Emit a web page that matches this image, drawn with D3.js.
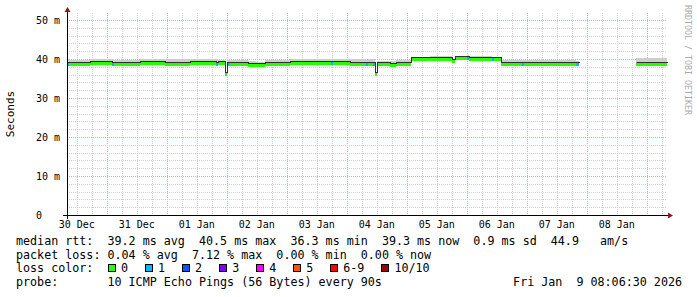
<!DOCTYPE html>
<html lang="en">
<head>
<meta charset="UTF-8">
<title>Smokeping latency - last 10 days</title>
<script src="https://cdn.jsdelivr.net/npm/d3@7/dist/d3.min.js"></script>
<style>
  body { margin: 0; background: #fff; }
  text { font-family: "DejaVu Sans Mono", monospace; white-space: pre; }
</style>
</head>
<body>
<svg id="chart" width="697" height="297" viewBox="0 0 697 297"></svg>
<script>
// window: 10 days ending Fri Jan 9 08:06:30 2026
const windowEnd = new Date(Date.UTC(2026, 0, 9, 8, 6, 30));
const windowStart = new Date(+windowEnd - 10 * 864e5);

// step starts, hours since windowStart (last entry = end of data / gaps)
const hours    = [0, 0.8, 9.2, 18, 18.8, 29.2, 39.2, 49.2, 59.6, 60.4, 63.2, 64, 64.4, 65.2, 72.4, 75.6, 79.2, 89.2, 97.2, 105.6,
                  106.4, 113.2, 119.6, 120.4, 122.4, 123.2, 124, 129.2, 131.6, 137.6, 145.2, 154, 155.2, 160, 160.8, 165.2, 170, 170.8, 173.6, 182,
                  182.8, 193.2, 203.6, 204.8, 227.6, 240];
// median rtt in ms (null = no data)
const median   = [39.1, 39.1, 39.2, 39.1, 39.1, 39.2, 39.1, 39.2, 39.1, 39.2, 36.3, 39.1, 39.1, 39.0, 38.7, 38.6, 39.1, 39.2, 39.2, 39.2,
                  39.2, 39.1, 39.1, 39.1, 39.1, 36.3, 39.0, 38.8, 39.0, 40.3, 40.2, 39.8, 40.4, 40.5, 40.3, 40.2, 40.2, 40.2, 39.1, 39.1,
                  39.1, 39.1, 39.1, null, 39.0, null];
// pings lost out of 10
const lost     = [1, 0, 0, 1, 0, 0, 0, 0, 1, 0, 0, 0, 1, 0, 0, 0, 0, 0, 0, 1,
                  0, 0, 1, 0, 1, 0, 0, 0, 0, 0, 0, 0, 0, 1, 0, 0, 1, 0, 0, 1,
                  0, 0, 1, 0, 0, 0];
// top of the smoke (slowest ping) in ms
const smokeTop = [39.9, 39.8, 40.0, 39.9, 39.8, 40.0, 39.9, 40.1, 40.0, 39.8, 36.5, 39.8, 39.8, 39.7, 39.4, 39.3, 39.8, 40.0, 40.1, 39.9,
                  40.0, 39.9, 39.8, 39.9, 39.9, 36.5, 39.6, 39.5, 39.7, 40.6, 40.7, 40.1, 40.8, 40.9, 40.8, 40.7, 40.6, 40.6, 39.7, 39.8,
                  39.8, 39.7, 39.6, null, 40.2, null];

const lossLabels = ['0', '1', '2', '3', '4', '5', '6-9', '10/10'];
const lossColors = ['#26ff00', '#00b8ff', '#0059ff', '#7e00ff', '#ff00ff', '#ff5500', '#ff0000', '#a10000'];
const yTicks = [0, 10, 20, 30, 40, 50];

const statLines = [
  'median rtt:  39.2 ms avg  40.5 ms max  36.3 ms min  39.3 ms now  0.9 ms sd  44.9   am/s',
  'packet loss: 0.04 % avg  7.12 % max  0.00 % min  0.00 % now'
];
const probeText = 'probe:       10 ICMP Echo Pings (56 Bytes) every 90s';
const stampText = 'Fri Jan  9 08:06:30 2026';

function lossColor(n) {
  if (n <= 5) return lossColors[n];
  if (n < 10) return lossColors[6];
  return lossColors[7];
}

const svg = d3.select('#chart');
const plot = {left: 67, right: 667, top: 13, bottom: 215};

const x = d3.scaleUtc().domain([windowStart, windowEnd]).range([plot.left, plot.right]);
const y = d3.scaleLinear().domain([0, 50]).range([plot.bottom, 20]);
const tAt = h => new Date(+windowStart + h * 36e5);

// segments
const segs = [];
for (let i = 0; i < hours.length - 1; i++) {
  segs.push({t0: tAt(hours[i]), t1: tAt(hours[i + 1]), m: median[i], loss: lost[i], top: smokeTop[i]});
}

// grid
const grid = svg.append('g').attr('shape-rendering', 'crispEdges');
const minorX = d3.utcHour.every(6).range(windowStart, windowEnd);
grid.selectAll('line.vx')
  .data(minorX)
  .enter().append('line')
  .attr('x1', d => Math.round(x(d)) + 0.5).attr('x2', d => Math.round(x(d)) + 0.5)
  .attr('y1', plot.top).attr('y2', plot.bottom)
  .attr('stroke', d => d.getUTCHours() === 0 ? '#e8a8a8' : '#cfcfcf')
  .attr('stroke-dasharray', '1,1');

grid.selectAll('line.hy')
  .data(d3.range(2, 52, 2))
  .enter().append('line')
  .attr('x1', plot.left).attr('x2', plot.right)
  .attr('y1', d => Math.round(y(d)) + 0.5).attr('y2', d => Math.round(y(d)) + 0.5)
  .attr('stroke', d => d % 10 === 0 ? '#e8a8a8' : '#cfcfcf')
  .attr('stroke-dasharray', '1,1');

// smoke
const live = segs.filter(d => d.m != null);
const marks = svg.append('g').attr('shape-rendering', 'crispEdges');
marks.selectAll('rect.smoke')
  .data(live)
  .enter().append('rect')
  .attr('x', d => x(d.t0)).attr('width', d => Math.max(1, x(d.t1) - x(d.t0)))
  .attr('y', d => y(d.top)).attr('height', d => y(d.m) - y(d.top))
  .attr('fill', '#cdcdcd');
marks.selectAll('rect.smoke2')
  .data(live)
  .enter().append('rect')
  .attr('x', d => x(d.t0)).attr('width', d => Math.max(1, x(d.t1) - x(d.t0)))
  .attr('y', d => y(d.m + 0.25)).attr('height', d => y(d.m) - y(d.m + 0.25))
  .attr('fill', '#909090');

// loss coloured median band
marks.selectAll('rect.band')
  .data(live)
  .enter().append('rect')
  .attr('x', d => x(d.t0)).attr('width', d => Math.max(1, x(d.t1) - x(d.t0)))
  .attr('y', d => y(d.m)).attr('height', 3)
  .attr('fill', d => lossColor(d.loss));

// median line
const pts = [];
segs.forEach(d => {
  if (d.m == null) { pts.push(null); return; }
  pts.push({t: d.t0, m: d.m}, {t: d.t1, m: d.m});
});
svg.append('path')
  .datum(pts)
  .attr('fill', 'none')
  .attr('stroke', '#303030')
  .attr('stroke-width', 1)
  .attr('shape-rendering', 'crispEdges')
  .attr('d', d3.line().defined(d => d != null).x(d => Math.round(x(d.t)) + 0.5).y(d => Math.round(y(d.m)) - 0.5));

// axes
const axes = svg.append('g').attr('shape-rendering', 'crispEdges');
axes.append('line').attr('x1', plot.left + 0.5).attr('x2', plot.left + 0.5).attr('y1', plot.bottom + 4).attr('y2', plot.top - 1).attr('stroke', '#000');
axes.append('line').attr('x1', plot.left - 4).attr('x2', plot.right + 2).attr('y1', plot.bottom + 0.5).attr('y2', plot.bottom + 0.5).attr('stroke', '#000');
svg.append('path').attr('d', `M${plot.left - 2.5},${plot.top - 1}L${plot.left + 3.5},${plot.top - 1}L${plot.left + 0.5},${plot.top - 6}Z`).attr('fill', '#8b1a1a');
svg.append('path').attr('d', `M${plot.right + 1},${plot.bottom - 2.5}L${plot.right + 1},${plot.bottom + 3.5}L${plot.right + 6},${plot.bottom + 0.5}Z`).attr('fill', '#8b1a1a');

// y labels
svg.selectAll('text.ylab')
  .data(yTicks)
  .enter().append('text')
  .attr('x', 36).attr('y', d => y(d) + 3.5)
  .attr('font-size', 10)
  .attr('fill', '#000')
  .text(d => d === 0 ? '0' : d + ' m');

// x labels at noon
const noons = d3.utcDay.range(d3.utcDay.floor(windowStart), windowEnd)
  .map(d => d3.utcHour.offset(d, 12))
  .filter(d => d >= windowStart && d <= windowEnd);
svg.selectAll('text.xlab')
  .data(noons)
  .enter().append('text')
  .attr('x', d => x(d)).attr('y', 228)
  .attr('text-anchor', 'middle')
  .attr('font-size', 10)
  .attr('fill', '#000')
  .text(d => d3.utcFormat('%d %b')(d));

// axis title and watermark
svg.append('text')
  .attr('transform', 'translate(14,114) rotate(-90)')
  .attr('text-anchor', 'middle')
  .attr('font-size', 11)
  .text('Seconds');
svg.append('text')
  .attr('transform', 'translate(685,5) rotate(90)')
  .attr('font-size', 8.3)
  .attr('fill', '#aaaaaa')
  .text('RRDTOOL / TOBI OETIKER');

// legend
const fs = 11.7;
statLines.forEach((s, i) => {
  svg.append('text').attr('x', 16).attr('y', 245 + i * 13.5).attr('font-size', fs).text(s);
});
svg.append('text').attr('x', 16).attr('y', 272).attr('font-size', fs).text('loss color:');
let lx = 108;
lossLabels.forEach((lab, i) => {
  svg.append('rect')
    .attr('x', lx + 0.5).attr('y', 264.5).attr('width', 7).attr('height', 7)
    .attr('fill', lossColors[i]).attr('stroke', '#000').attr('shape-rendering', 'crispEdges');
  const t = svg.append('text').attr('x', lx + 13).attr('y', 272).attr('font-size', fs).text(lab);
  lx = lx + 13 + t.node().getComputedTextLength() + 17;
});
svg.append('text').attr('x', 16).attr('y', 285.5).attr('font-size', fs).text(probeText);
svg.append('text').attr('x', 682).attr('y', 285.5).attr('text-anchor', 'end').attr('font-size', fs).text(stampText);
</script>
</body>
</html>
